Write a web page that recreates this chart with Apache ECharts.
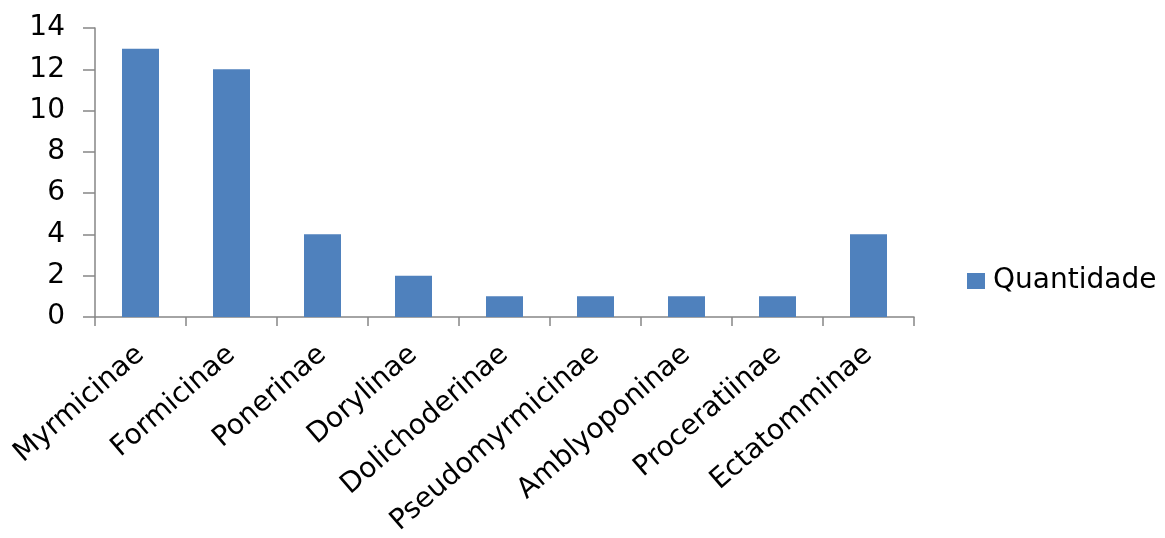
<!DOCTYPE html>
<html><head><meta charset="utf-8">
<script src="https://cdn.jsdelivr.net/npm/echarts@6/dist/echarts.min.js"></script>
<style>html,body{margin:0;padding:0;background:#fff}#c{width:1165px;height:538px}</style>
</head><body><div id="c"></div>
<script>
const categories = ["Myrmicinae","Formicinae","Ponerinae","Dorylinae","Dolichoderinae","Pseudomyrmicinae","Amblyoponinae","Proceratiinae","Ectatomminae"];
const quantidade = [13,12,4,2,1,1,1,1,4];
const yTicks = {min:0, max:14, interval:2};
const FONT = '"DejaVu Sans", "Liberation Sans", Arial, sans-serif';
const chart = echarts.init(document.getElementById('c'));
chart.setOption({
  animation:false,
  grid:{left:95,right:251,top:28,bottom:221,containLabel:false},
  legend:{
    show:true, left:962, top:262, orient:'vertical',
    itemWidth:18, itemHeight:16, itemGap:6,
    textStyle:{fontFamily:FONT,fontSize:28,color:'#000',padding:[0,0,0,3]},
    icon:'rect', data:['Quantidade']
  },
  xAxis:{
    type:'category', data:categories, boundaryGap:true,
    axisLine:{lineStyle:{color:'#868686',width:1.5}},
    axisTick:{show:true,length:9,alignWithLabel:false,lineStyle:{color:'#868686',width:1.5}},
    axisLabel:{rotate:41,interval:0,margin:34,fontFamily:FONT,fontSize:28,color:'#000'}
  },
  yAxis:{
    type:'value', min:yTicks.min, max:yTicks.max, interval:yTicks.interval,
    splitLine:{show:false},
    axisLine:{show:true,lineStyle:{color:'#868686',width:1.5}},
    axisTick:{show:true,length:12,lineStyle:{color:'#868686',width:1.5}},
    axisLabel:{margin:30,fontFamily:FONT,fontSize:28,color:'#000'}
  },
  series:[{
    name:'Quantidade', type:'bar', data:quantidade, barWidth:37,
    itemStyle:{color:'#4F81BD'}
  }]
});
</script></body></html>
